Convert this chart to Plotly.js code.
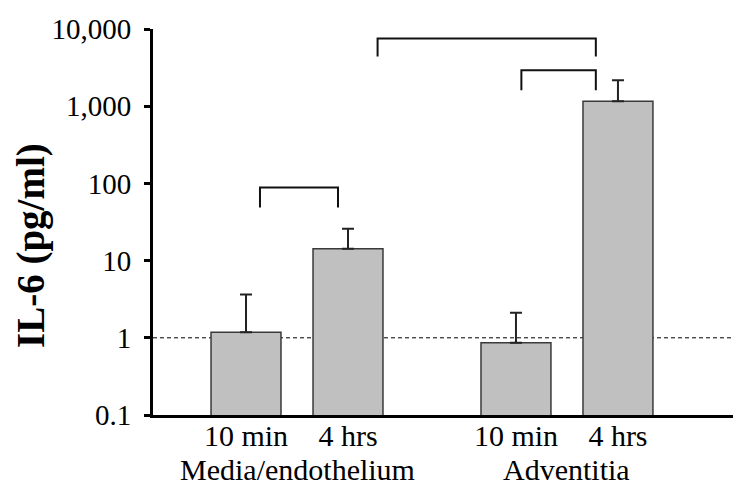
<!DOCTYPE html>
<html>
<head>
<meta charset="utf-8">
<script src="https://cdn.plot.ly/plotly-3.0.1.min.js"></script>
<style>html,body{margin:0;padding:0;background:#fff;}#chart{width:750px;height:493px;}</style>
</head>
<body>
<div id="chart"></div>
<script>
// ---- data ----
var groups = ["Media/endothelium", "Adventitia"];
var timeLabels = ["10 min", "4 hrs"];
var il6Mean = [1.18, 14.2, 0.86, 1160];        // pg/ml, bars in order: M 10min, M 4hrs, A 10min, A 4hrs
var il6Upper = [3.64, 25.8, 2.11, 2170];       // top of upper error bar
var yTickVals = [0.1, 1, 10, 100, 1000, 10000];
var yTickText = ["0.1", "1", "10", "100", "1,000", "10,000"];
var yTitle = "IL-6 (pg/ml)";
var refLevel = 1;
// significance brackets
var bracketLeft = [0.137, 1.29, 2.70];
var bracketRight = [0.902, 3.43, 3.43];
var bracketTop = [88.5, 7530, 2925];
var bracketFoot = [48.7, 4400, 1611];

// ---- layout helpers ----
var serif = 'Liberation Serif, Times New Roman, serif';
var groupSpacing = 2.647;
var xPos = [], xText = [];
groups.forEach(function (g, gi) {
  timeLabels.forEach(function (t, ti) {
    xPos.push(gi * groupSpacing + ti);
    xText.push(t);
  });
});
var errPlus = il6Upper.map(function (u, i) { return u - il6Mean[i]; });
var errMinus = il6Mean.map(function () { return 0; });
var yRange = [-1, 4];

var traces = [{
  type: 'bar',
  x: xPos,
  y: il6Mean,
  width: 0.686,
  marker: { color: '#c0c0c0', line: { color: '#3a3a3a', width: 1.5 } },
  error_y: { type: 'data', symmetric: false, array: errPlus, arrayminus: errMinus,
             color: '#222', thickness: 2, width: 6 },
  hoverinfo: 'y',
  showlegend: false
}];

for (var b = 0; b < bracketLeft.length; b++) {
  traces.push({
    type: 'scatter', mode: 'lines',
    x: [bracketLeft[b], bracketLeft[b], bracketRight[b], bracketRight[b]],
    y: [bracketFoot[b], bracketTop[b], bracketTop[b], bracketFoot[b]],
    line: { color: '#111', width: 2 },
    hoverinfo: 'skip', showlegend: false
  });
}

var groupCenters = groups.map(function (g, gi) { return gi * groupSpacing + 0.5; });
var annotations = groups.map(function (g, gi) {
  return {
    text: g, x: groupCenters[gi], xref: 'x', y: -0.0959, yref: 'paper',
    yanchor: 'top', xanchor: 'center', showarrow: false, borderpad: 0,
    font: { family: serif, size: 30, color: '#000' }
  };
});
annotations.push({
  text: yTitle, textangle: -90, xref: 'paper', yref: 'paper',
  x: -0.2103, y: 0.4378, xanchor: 'center', yanchor: 'middle', showarrow: false,
  font: { family: serif, size: 39, weight: 'bold', color: '#000' }
});

var layout = {
  width: 750, height: 493,
  margin: { l: 153, r: 17, t: 29, b: 78 },
  paper_bgcolor: '#fff', plot_bgcolor: '#fff',
  font: { family: serif, size: 28, color: '#000' },
  xaxis: {
    range: [-0.912, 4.775],
    tickvals: xPos, ticktext: xText,
    showgrid: false, zeroline: false,
    showline: true, linecolor: '#000', linewidth: 3,
    ticks: '', ticklabelstandoff: -8,
    tickfont: { family: serif, size: 30, color: '#000' }
  },
  yaxis: {
    type: 'log', range: yRange,
    tickvals: yTickVals, ticktext: yTickText,
    showgrid: false, zeroline: false,
    showline: true, linecolor: '#000', linewidth: 3,
    ticks: 'outside', ticklen: 6, tickwidth: 3, tickcolor: '#000',
    ticklabelstandoff: 7,
    tickfont: { family: serif, size: 29, color: '#000' }
  },
  shapes: [{
    type: 'line', layer: 'below', xref: 'paper', yref: 'paper',
    x0: 0, x1: 1,
    y0: (Math.log10(refLevel) - yRange[0]) / (yRange[1] - yRange[0]),
    y1: (Math.log10(refLevel) - yRange[0]) / (yRange[1] - yRange[0]),
    line: { color: '#000', width: 1, dash: '4px,3px' }
  }],
  annotations: annotations,
  showlegend: false,
  bargap: 0
};

Plotly.newPlot('chart', traces, layout, { displayModeBar: false, staticPlot: true });
</script>
</body>
</html>
